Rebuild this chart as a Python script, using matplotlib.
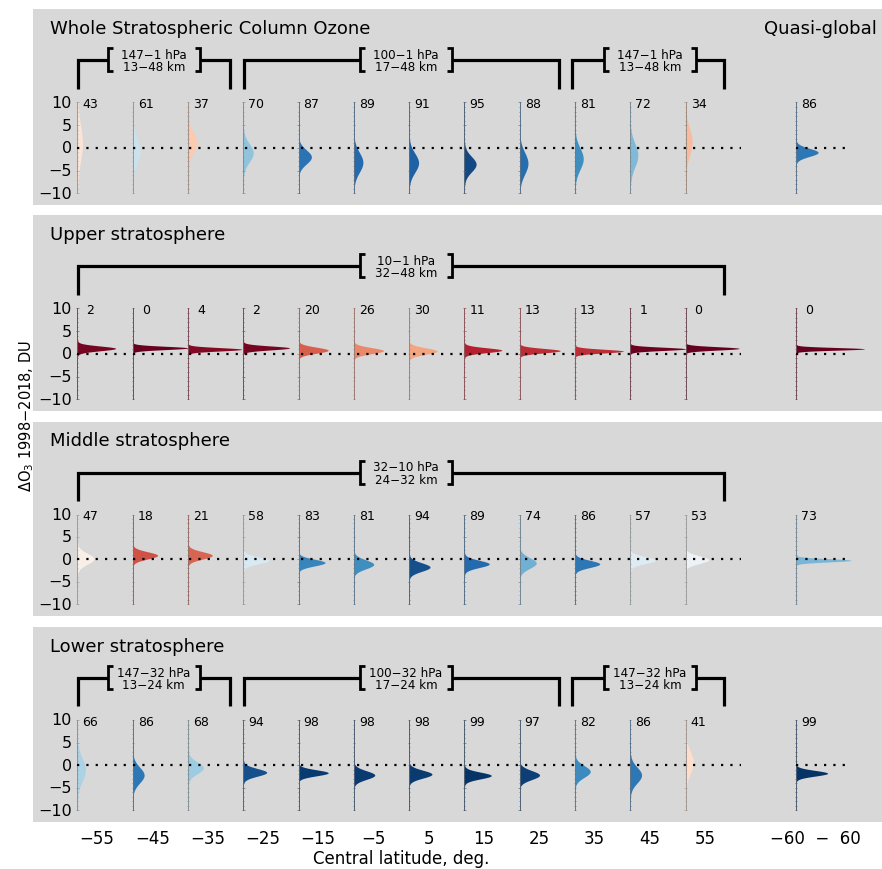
import numpy as np
import matplotlib
matplotlib.use("Agg")
import matplotlib.pyplot as plt
from matplotlib.transforms import blended_transform_factory

# ---------------------------------------------------------------- data
latitudes = [-55, -45, -35, -25, -15, -5, 5, 15, 25, 35, 45, 55]
global_position = 75
positions = latitudes + [global_position]
tick_labels = ["−55", "−45", "−35", "−25", "−15", "−5", "5", "15", "25",
               "35", "45", "55", "−60  −  60"]

panel_titles = ["Whole Stratospheric Column Ozone", "Upper stratosphere",
                "Middle stratosphere", "Lower stratosphere"]

# probability (%) of an ozone decrease, per latitude band + quasi-global
prob_column = [43, 61, 37, 70, 87, 89, 91, 95, 88, 81, 72, 34, 86]
prob_upper = [2, 0, 4, 2, 20, 26, 30, 11, 13, 13, 1, 0, 0]
prob_middle = [47, 18, 21, 58, 83, 81, 94, 89, 74, 86, 57, 53, 73]
prob_lower = [66, 86, 68, 94, 98, 98, 98, 99, 97, 82, 86, 41, 99]

# posterior mean and spread of the 1998-2018 change (DU)
mean_column = [1.0, -0.7, 1.2, -1.1, -2.0, -3.2, -3.3, -3.6, -3.4, -2.4, -1.6, 1.3, -1.0]
sd_column = [4.0, 2.7, 2.2, 2.0, 1.55, 2.2, 2.1, 1.7, 2.4, 2.4, 2.6, 3.0, 0.9]
mean_upper = [1.2, 1.3, 1.0, 1.3, 0.8, 0.7, 0.6, 0.8, 0.7, 0.6, 1.1, 1.2, 1.1]
sd_upper = [0.52, 0.36, 0.37, 0.43, 0.67, 0.67, 0.71, 0.53, 0.49, 0.41, 0.36, 0.37, 0.29]
mean_middle = [0.15, 0.9, 0.9, -0.2, -0.7, -1.1, -1.7, -1.0, -0.8, -1.0, -0.15, -0.05, -0.2]
sd_middle = [1.2, 0.8, 0.82, 0.78, 0.75, 1.0, 0.95, 0.8, 1.2, 0.8, 0.78, 0.85, 0.36]
mean_lower = [-1.0, -2.2, -0.6, -1.6, -1.7, -2.2, -2.0, -2.3, -2.2, -1.4, -2.2, 0.6, -1.8]
sd_lower = [2.5, 1.75, 1.3, 0.85, 0.67, 0.95, 0.87, 0.74, 1.0, 1.3, 1.75, 2.5, 0.63]

# pressure / altitude ranges: (left, right, label centre, line 1, line 2)
brackets_column = [(-58.5, -31.0, -44.75, "147−1 hPa", "13−48 km"),
                   (-28.5, 28.5, 0.9, "100−1 hPa", "17−48 km"),
                   (31.0, 58.5, 45.0, "147−1 hPa", "13−48 km")]
brackets_upper = [(-58.5, 58.5, 0.9, "10−1 hPa", "32−48 km")]
brackets_middle = [(-58.5, 58.5, 0.9, "32−10 hPa", "24−32 km")]
brackets_lower = [(-58.5, -31.0, -44.75, "147−32 hPa", "13−24 km"),
                  (-28.5, 28.5, 0.9, "100−32 hPa", "17−24 km"),
                  (31.0, 58.5, 45.0, "147−32 hPa", "13−24 km")]

panels = [
    (panel_titles[0], prob_column, mean_column, sd_column, brackets_column),
    (panel_titles[1], prob_upper, mean_upper, sd_upper, brackets_upper),
    (panel_titles[2], prob_middle, mean_middle, sd_middle, brackets_middle),
    (panel_titles[3], prob_lower, mean_lower, sd_lower, brackets_lower),
]

# ---------------------------------------------------------------- style
FIG_W, FIG_H = 882, 870
panel_px = [(10, 206), (216, 412), (423, 617), (628, 823)]
LEFT_PX = 33
BG = "#d8d8d8"
BASE_OFFSET = 3.55      # violin baseline sits left of the band centre
WIDTH_SCALE = 9.0       # horizontal scale applied to the density
cmap = plt.get_cmap("RdBu")

plt.rcParams["font.family"] = ["DejaVu Sans"]

fig = plt.figure(figsize=(FIG_W / 100, FIG_H / 100), dpi=100)

y = np.linspace(-10, 10, 801)


def text_bracket(ax, xc, half, y_lo, y_hi, serif, lw):
    xl, xr = xc - half, xc + half
    ax.plot([xl + serif, xl, xl, xl + serif], [y_hi, y_hi, y_lo, y_lo],
            color="k", lw=lw, solid_joinstyle="miter", solid_capstyle="butt")
    ax.plot([xr - serif, xr, xr, xr - serif], [y_hi, y_hi, y_lo, y_lo],
            color="k", lw=lw, solid_joinstyle="miter", solid_capstyle="butt")


axes = []
for i, (title, probs, means, sds, brackets) in enumerate(panels):
    top, bot = panel_px[i]
    ax = fig.add_axes([LEFT_PX / FIG_W, 1 - bot / FIG_H,
                       (FIG_W - LEFT_PX) / FIG_W, (bot - top) / FIG_H])
    axes.append(ax)
    ax.set_facecolor(BG)
    for s in ax.spines.values():
        s.set_visible(False)
    ax.set_xlim(-66.6, 87.0)
    ax.set_ylim(-12.6, 30.6)
    ax.set_yticks([])
    ax.tick_params(axis="x", length=0, labelbottom=False)

    # title(s)
    ax.text(-63.5, 26.5, title, fontsize=13, ha="left", va="center")
    if i == 0:
        ax.text(86.0, 26.5, "Quasi-global", fontsize=13, ha="right", va="center")

    # y tick labels left of the first band
    first_base = positions[0] - BASE_OFFSET
    for v, lab in zip([10, 5, 0, -5, -10], ["10", "5", "0", "−5", "−10"]):
        ax.text(first_base - 1.0, v, lab, fontsize=11.5, ha="right", va="center")

    # distributions
    for pos, p, m, s in zip(positions, probs, means, sds):
        base = pos - BASE_OFFSET
        col = cmap(p / 100.0)
        dens = np.exp(-0.5 * ((y - m) / s) ** 2) / (s * np.sqrt(2 * np.pi))
        ax.fill_betweenx(y, base, base + WIDTH_SCALE * dens, color=col,
                         lw=0, zorder=2)
        line_col = 0.65 * np.array([0.45, 0.45, 0.45]) + 0.35 * np.array(col[:3])
        ax.plot([base, base], [-10, 10], color=line_col, lw=0.7, zorder=3)
        ticks = np.arange(-10, 11, 1)
        half = np.where(ticks % 5 == 0, 0.22, 0.1)
        ax.hlines(ticks, base - half, base + half, color=line_col, lw=0.45,
                  zorder=3)
        ax.text(base + 2.35, 9.7, str(p), fontsize=9, ha="center",
                va="center", zorder=4)

    # zero lines
    ax.plot([positions[0] - BASE_OFFSET, latitudes[-1] - BASE_OFFSET + 10],
            [0, 0], color="k", lw=1.6, ls=(0, (1, 3.2)), zorder=4)
    ax.plot([global_position - BASE_OFFSET, global_position - BASE_OFFSET + 10],
            [0, 0], color="k", lw=1.6, ls=(0, (1, 3.2)), zorder=4)

    # vertical-range brackets
    y_foot, y_bar = 13.0, 19.3
    half_w = 8.3
    for left, right, tc, l1, l2 in brackets:
        ax.plot([left, left, tc - half_w], [y_foot, y_bar, y_bar], color="k",
                lw=2.3, solid_joinstyle="miter", solid_capstyle="butt")
        ax.plot([tc + half_w, right, right], [y_bar, y_bar, y_foot], color="k",
                lw=2.3, solid_joinstyle="miter", solid_capstyle="butt")
        text_bracket(ax, tc, half_w, 16.9, 22.0, 0.9, 2.0)
        ax.text(tc, 20.6, l1, fontsize=8.6, ha="center", va="center")
        ax.text(tc, 17.9, l2, fontsize=8.6, ha="center", va="center")

# x axis labelling on the bottom panel
ax = axes[-1]
ax.set_xticks(positions)
ax.set_xticklabels(tick_labels, fontsize=12)
ax.tick_params(axis="x", length=0, pad=5, labelbottom=True)
trans = blended_transform_factory(ax.transData, ax.transAxes)
ax.text(0, -0.185, "Central latitude, deg.", transform=trans, fontsize=12,
        ha="center", va="center")

fig.text(27 / FIG_W, 1 - 416 / FIG_H, "ΔO$_3$ 1998−2018, DU", rotation=90,
         fontsize=10.5, ha="center", va="center")

fig.savefig("out.png", dpi=100, facecolor="white")
